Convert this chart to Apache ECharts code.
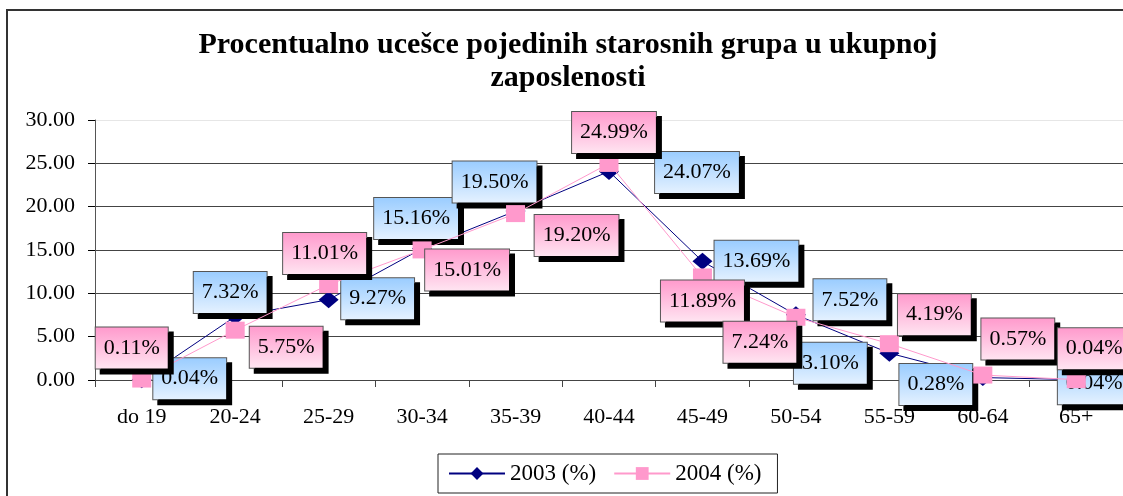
<!DOCTYPE html>
<html>
<head>
<meta charset="utf-8">
<script src="https://cdn.jsdelivr.net/npm/echarts@6/dist/echarts.min.js"></script>
<style>
  html, body { margin: 0; padding: 0; background: #fff; }
  #chart { width: 1123px; height: 496px; }
</style>
</head>
<body>
<div id="chart"></div>
<script>
// Age groups and employment shares (%)
const ageGroups = ['do 19', '20-24', '25-29', '30-34', '35-39', '40-44', '45-49', '50-54', '55-59', '60-64', '65+'];
const share2003 = [0.04, 7.32, 9.27, 15.16, 19.50, 24.07, 13.69, 7.52, 3.10, 0.28, 0.04];
const share2004 = [0.11, 5.75, 11.01, 15.01, 19.20, 24.99, 11.89, 7.24, 4.19, 0.57, 0.04];
const seriesNames = ['2003 (%)', '2004 (%)'];

// Where each value callout sits relative to its point, in pixels
const callout2003 = [[48, -1], [-5, -24], [49, -1], [-6, -30], [-21, -29], [88, 1], [54, 0], [54, -15], [-59, 10], [-47, 7], [18, 4]];
const callout2004 = [[-10, -31], [51, 17], [-4, -31], [45, 20], [61, 22], [5, -31], [0, 24], [-36, 25], [45, -29], [35, -36], [18, -31]];

const SERIF = '"Liberation Serif", "Times New Roman", serif';

function calloutStyle(top, bottom) {
  return {
    show: true,
    position: 'inside',
    fontFamily: SERIF,
    fontSize: 22,
    color: '#000',
    lineHeight: 23,
    padding: [9, 8, 9, 8],
    borderColor: '#555',
    borderWidth: 1,
    backgroundColor: new echarts.graphic.LinearGradient(0, 0, 0, 1, [
      { offset: 0, color: top },
      { offset: 1, color: bottom }
    ]),
    shadowColor: '#000',
    shadowBlur: 0,
    shadowOffsetX: 5,
    shadowOffsetY: 5,
    formatter: p => p.value.toFixed(2) + '%'
  };
}

function withCallouts(values, offsets) {
  return values.map((v, i) => ({ value: v, label: { offset: offsets[i] } }));
}

const chart = echarts.init(document.getElementById('chart'));
chart.setOption({
  animation: false,
  backgroundColor: '#fff',
  title: {
    text: 'Procentualno ucešce pojedinih starosnih grupa u ukupnoj\nzaposlenosti',
    left: 568,
    top: 29,
    padding: 0,
    textAlign: 'center',
    textStyle: {
      fontFamily: SERIF,
      fontWeight: 'bold',
      fontSize: 30,
      lineHeight: 33,
      color: '#000'
    }
  },
  graphic: [{
    type: 'rect',
    shape: { x: 7, y: 10, width: 1140, height: 520 },
    style: { fill: null, stroke: '#333', lineWidth: 2 },
    silent: true,
    z: 100
  }],
  legend: {
    left: 438,
    top: 454,
    orient: 'horizontal',
    padding: [8, 16, 8, 10],
    itemGap: 17,
    itemWidth: 56,
    itemHeight: 16,
    borderColor: '#222',
    borderWidth: 1,
    textStyle: { fontFamily: SERIF, fontSize: 23, color: '#000' },
    data: seriesNames
  },
  grid: { left: 95, top: 120, right: -3, bottom: 116, containLabel: false },
  xAxis: {
    type: 'category',
    data: ageGroups,
    boundaryGap: true,
    axisLine: { lineStyle: { color: '#444', width: 1 } },
    axisTick: { show: true, inside: false, length: 7, lineStyle: { color: '#444' } },
    axisLabel: { fontFamily: SERIF, fontSize: 22, color: '#000', margin: 26 }
  },
  yAxis: {
    type: 'value',
    min: 0,
    max: 30,
    interval: 5,
    axisLine: { show: true, lineStyle: { color: '#555', width: 1 } },
    axisTick: { show: true, length: 7, lineStyle: { color: '#000' } },
    axisLabel: { fontFamily: SERIF, fontSize: 22, color: '#000', margin: 20, formatter: v => v.toFixed(2) },
    splitLine: { show: true, lineStyle: { color: ['#444', '#444', '#444', '#444', '#444', '#444', '#e6e6e6'], width: 1 } }
  },
  series: [
    {
      name: seriesNames[0],
      type: 'line',
      data: withCallouts(share2003, callout2003),
      symbol: 'diamond',
      symbolSize: [20, 17],
      itemStyle: { color: '#000080' },
      lineStyle: { color: '#000080', width: 1 },
      label: calloutStyle('#99ccff', '#e6f2ff'),
      z: 2
    },
    {
      name: seriesNames[1],
      type: 'line',
      data: withCallouts(share2004, callout2004),
      symbol: 'rect',
      symbolSize: [19, 17],
      itemStyle: { color: '#ff99cc' },
      lineStyle: { color: '#ff99cc', width: 1 },
      label: calloutStyle('#ff99cc', '#ffe6f2'),
      z: 3
    }
  ]
});
</script>
</body>
</html>
